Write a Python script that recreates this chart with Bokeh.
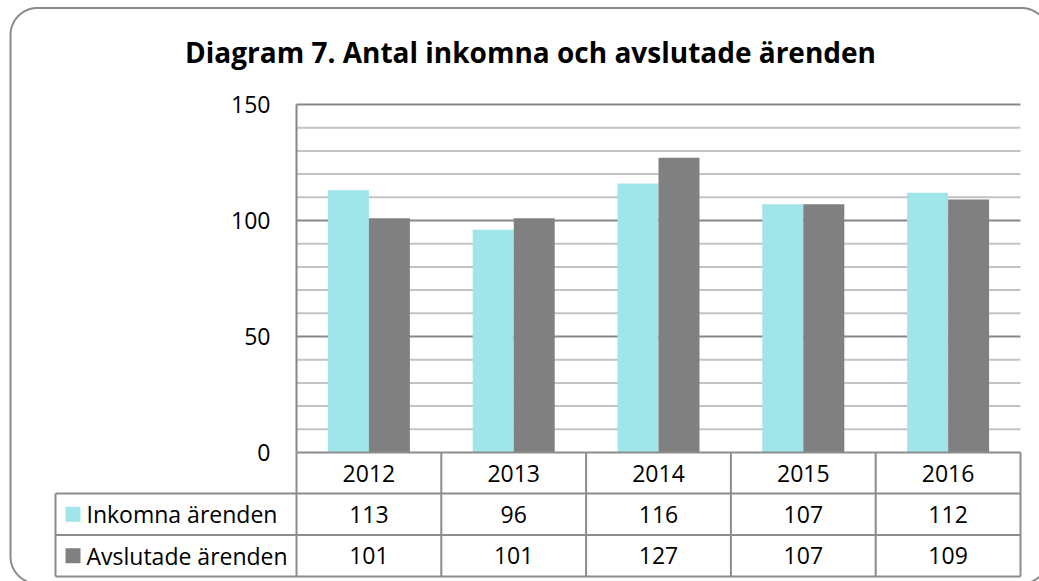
import numpy as np
from bokeh.plotting import figure
from bokeh.models import Range1d
from bokeh.core.properties import value
from bokeh.embed import file_html
from bokeh.resources import INLINE

# ---------------- data ----------------
title_text = "Diagram 7. Antal inkomna och avslutade ärenden"
years = ["2012", "2013", "2014", "2015", "2016"]
series_names = ["Inkomna ärenden", "Avslutade ärenden"]
inkomna = [113, 96, 116, 107, 112]
avslutade = [101, 101, 127, 107, 109]
y_ticks = [0, 50, 100, 150]
y_minor = [10, 20, 30, 40, 60, 70, 80, 90, 110, 120, 130, 140]
colors = ["#9FE5E9", "#808080"]

# ---------------- layout (canvas pixels) ----------------
W, H = 1039, 581
PL, PR, PT, PB = 296, 1020, 104, 452      # plot area
YMAX = 150
ky = (PB - PT) / YMAX
kx = (PR - PL) / len(years)


def xd(px):
    return -0.5 + (px - PL) / kx


def yd(py):
    return (PB - py) / ky


FONT = value("Open Sans")
GRID_MAJOR = "#878787"
GRID_MINOR = "#C3C3C3"
TABLE_LINE = "#8C8C8C"

p = figure(width=W, height=H, output_backend="svg", toolbar_location=None,
           x_range=Range1d(xd(0), xd(W)), y_range=Range1d(yd(H), yd(0)),
           x_axis_type=None, y_axis_type=None, min_border=0,
           outline_line_color=None, background_fill_color="white",
           border_fill_color="white")
p.xgrid.visible = False
p.ygrid.visible = False

n = len(years)
idx = np.arange(n)
x_left, x_right = -0.5, n - 0.5

# rounded outer frame (only the part that falls inside the canvas)
def rounded_path(l, t, r, b, rad, m=40):
    pts = []
    corners = [((l + rad, b - rad), -180, -90 - 360), ]
    corners = [((l + rad, t + rad), 180, 90), ((r - rad, t + rad), 90, 0),
               ((r - rad, b - rad), 0, -90), ((l + rad, b - rad), -90, -180)]
    for (cx, cy), a0, a1 in corners:
        for a in np.linspace(np.radians(a0), np.radians(a1), m):
            pts.append((cx + rad * np.cos(a), cy - rad * np.sin(a)))
    pts.append(pts[0])
    xs, ys = [], []
    prev_in = True
    for qx, qy in pts:
        inside = (-1 <= qx <= W + 1) and (-1 <= qy <= H + 1)
        if inside:
            if not prev_in and xs:
                xs.append(np.nan)
                ys.append(np.nan)
            xs.append(xd(qx))
            ys.append(yd(qy))
        prev_in = inside
    return xs, ys

fx, fy = rounded_path(10, 7.5, 1048, 583, 27)
p.line(fx, fy, line_color="#8A8A8A", line_width=2)

# gridlines
p.segment(x0=[x_left] * len(y_minor), x1=[x_right] * len(y_minor), y0=y_minor, y1=y_minor,
          line_color=GRID_MINOR, line_width=2)
maj = [t for t in y_ticks if t > 0]
p.segment(x0=[x_left] * len(maj), x1=[x_right] * len(maj), y0=maj, y1=maj,
          line_color=GRID_MAJOR, line_width=2)

# bars
bw = 41 / kx
p.vbar(x=idx - bw / 2, top=inkomna, bottom=0, width=bw, fill_color=colors[0], line_color=None)
p.vbar(x=idx + bw / 2, top=avslutade, bottom=0, width=bw, fill_color=colors[1], line_color=None)

# value axis line
p.segment(x0=[x_left], x1=[x_left], y0=[0], y1=[YMAX], line_color=GRID_MAJOR, line_width=2)

# y tick labels
p.text(x=[xd(270)] * len(y_ticks), y=y_ticks, text=[str(t) for t in y_ticks],
       text_font=FONT, text_font_size=value("23px"), text_align="right",
       text_baseline="middle", text_color="#000000")

# title
p.text(x=[xd(530)], y=[yd(51)], text=[title_text], text_font=FONT,
       text_font_size=value("28px"), text_font_style="bold", text_align="center",
       text_baseline="middle", text_color="#000000")

# data table
rows = [PB, 493, 534.5, 576]
tl = 55
row_c = [yd((rows[i] + rows[i + 1]) / 2) for i in range(3)]
# horizontal lines
p.segment(x0=[x_left, xd(tl), xd(tl), xd(tl)], x1=[x_right] * 4,
          y0=[yd(r) for r in rows], y1=[yd(r) for r in rows],
          line_color=TABLE_LINE, line_width=2)
# vertical lines
vx = [x_left + k for k in range(n + 1)]
p.segment(x0=vx, x1=vx, y0=[yd(rows[0])] * len(vx), y1=[yd(rows[-1])] * len(vx),
          line_color=TABLE_LINE, line_width=2)
p.segment(x0=[xd(tl)], x1=[xd(tl)], y0=[yd(rows[1])], y1=[yd(rows[-1])],
          line_color=TABLE_LINE, line_width=2)

tfs = value("23px")
p.text(x=idx, y=[row_c[0]] * n, text=years, text_font=FONT, text_font_size=tfs,
       text_align="center", text_baseline="middle", text_color="#000000")
p.text(x=idx, y=[row_c[1]] * n, text=[str(v) for v in inkomna], text_font=FONT,
       text_font_size=tfs, text_align="center", text_baseline="middle", text_color="#000000")
p.text(x=idx, y=[row_c[2]] * n, text=[str(v) for v in avslutade], text_font=FONT,
       text_font_size=tfs, text_align="center", text_baseline="middle", text_color="#000000")

# row labels with legend keys
p.scatter(x=[xd(72.5)] * 2, y=row_c[1:], marker="square", size=15,
          fill_color=colors, line_color=None)
p.text(x=[xd(86)] * 2, y=row_c[1:], text=series_names, text_font=FONT,
       text_font_size=tfs, text_align="left", text_baseline="middle", text_color="#000000")

open("out.html", "w").write(file_html(p, INLINE))
